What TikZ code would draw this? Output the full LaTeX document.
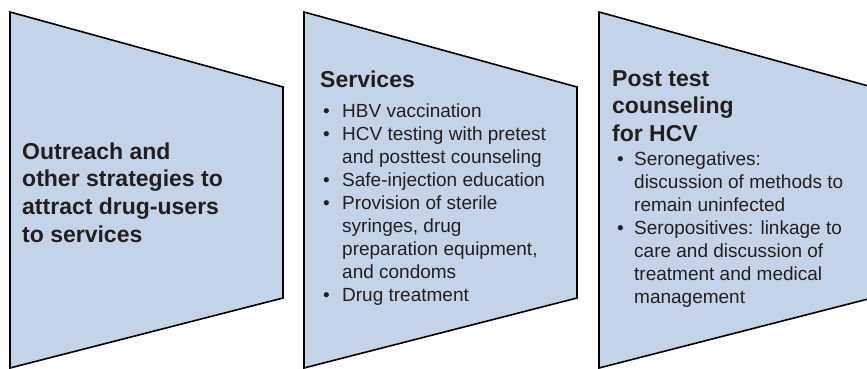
\documentclass[tikz,border=0pt]{standalone}
\usepackage{fontspec}
\setmainfont{Liberation Sans}
\definecolor{panelfill}{HTML}{C5D3E9}
\definecolor{ink}{HTML}{231F20}
\newcommand\bul[1]{\makebox[#1][l]{\textbullet}}
\newcommand\ind[1]{\hspace*{#1}}
\tikzset{
  panel/.style={fill=panelfill, draw=black, line width=1.6pt, line join=miter},
  titletext/.style={anchor=base west, inner sep=0pt, align=left, text=ink,
    font=\bfseries\fontsize{23}{27.8}\selectfont},
  listtext/.style={anchor=base west, inner sep=0pt, align=left, text=ink,
    font=\fontsize{19}{23.1}\selectfont}
}
\begin{document}
\begin{tikzpicture}[x=1pt,y=-1pt]
\useasboundingbox (0,0) rectangle (867,369);
\clip (0,0) rectangle (867,369);
\foreach \L in {10,304,599}{
  \draw[panel] (\L,12) -- (\L+273,87) -- (\L+273,298) -- (\L,368) -- cycle;
}
% anchors at the baseline of the last line of each text
\node[titletext] (t1) at (22,242.4) {Outreach and\\other strategies to\\attract drug-users\\to services};
\node[titletext] (t2) at (320,87) {Services};
\node[listtext] (l2) at (323,301.8) {\bul{19pt}HBV vaccination\\
\bul{19pt}HCV testing with pretest\\
\ind{19pt}and posttest counseling\\
\bul{19pt}Safe-injection education\\
\bul{19pt}Provision of sterile\\
\ind{19pt}syringes, drug\\
\ind{19pt}preparation equipment,\\
\ind{19pt}and condoms\\
\bul{19pt}Drug treatment};
\node[titletext] (t3) at (612,141.6) {Post test\\counseling\\for HCV};
\node[listtext, font=\fontsize{19}{23}\selectfont] (l3) at (617,303) {\bul{17pt}Seronegatives:\\
\ind{17pt}discussion of methods to\\
\ind{17pt}remain uninfected\\
\bul{17pt}Seropositives: linkage to\\
\ind{17pt}care and discussion of\\
\ind{17pt}treatment and medical\\
\ind{17pt}management};
\end{tikzpicture}
\end{document}
